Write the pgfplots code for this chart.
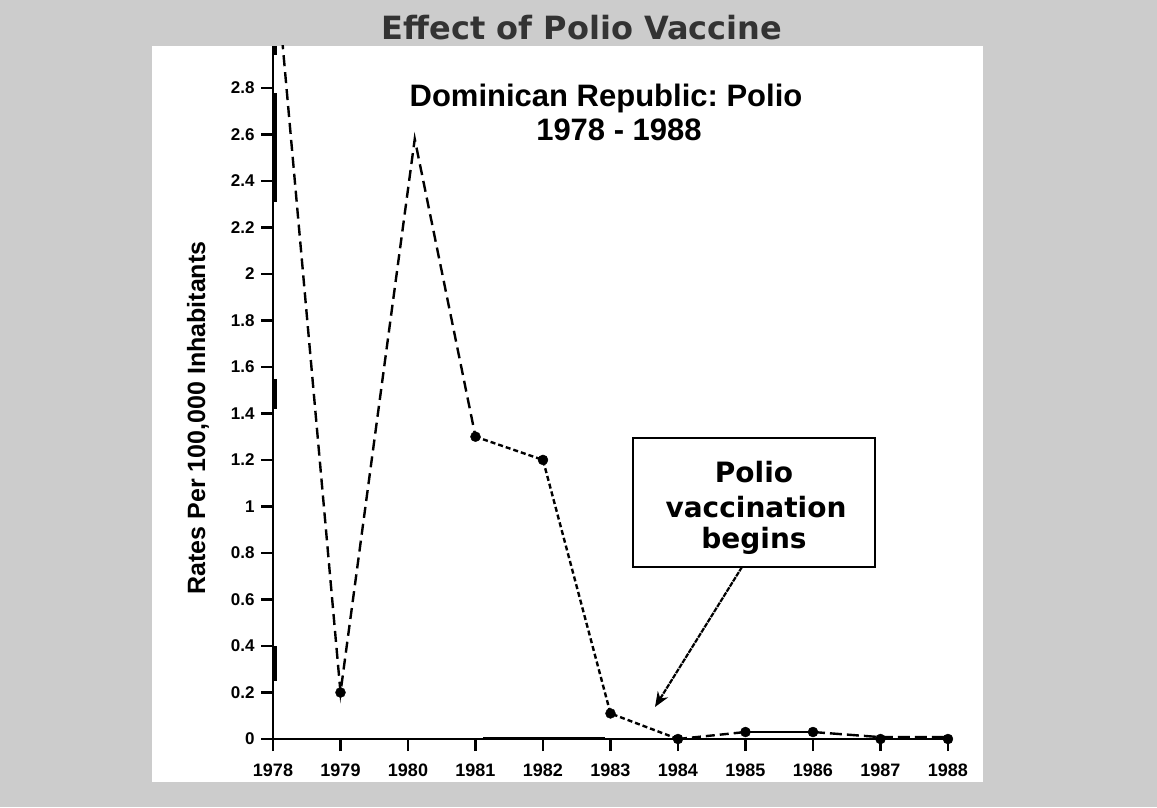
\documentclass[border=0pt]{standalone}
\usepackage{fontspec}
\setmainfont{Liberation Sans}
\newfontfamily\dv{DejaVu Sans}
\usepackage{pgfplots}
\pgfplotsset{compat=1.18}
\usetikzlibrary{arrows.meta}
\definecolor{bg}{HTML}{CCCCCC}
\definecolor{tt}{HTML}{333333}
\frenchspacing
\begin{document}
\begin{tikzpicture}[x=1pt,y=1pt]
\useasboundingbox (0,0) rectangle (1157,807);
\fill[bg] (0,0) rectangle (1157,807);
\fill[white] (152,25) rectangle (983,761);
\begin{axis}[
  at={(273pt,68pt)}, anchor=south west,
  scale only axis, width=677pt, height=693pt,
  xmin=1978, xmax=1988.03, ymin=0, ymax=2.98,
  axis lines=left, axis line style={-, line width=2.6pt},
  tick align=outside, major tick length=12pt,
  major tick style={black, line width=2.4pt},
  xtick={1978,1979,1980,1981,1982,1983,1984,1985,1986,1987,1988},
  xticklabels={1978,1979,1980,1981,1982,1983,1984,1985,1986,1987,1988},
  ytick={0,0.2,0.4,0.6,0.8,1,1.2,1.4,1.6,1.8,2,2.2,2.4,2.6,2.8},
  yticklabels={0,0.2,0.4,0.6,0.8,1,1.2,1.4,1.6,1.8,2,2.2,2.4,2.6,2.8},
  xticklabel style={font=\bfseries\fontsize{18}{21}\selectfont, yshift=-9pt},
  yticklabel style={font=\bfseries\fontsize{17}{20}\selectfont, xshift=-3pt},
]
\addplot[black, line width=2.4pt, dash pattern=on 11pt off 6pt] coordinates {(1978,3.45) (1979,0.2) (1980.1,2.58) (1981,1.3)};
\addplot[black, line width=2.4pt, dash pattern=on 5pt off 3pt] coordinates {(1981,1.3) (1982,1.2) (1983,0.11) (1984,0)};
\addplot[black, line width=2.4pt, dash pattern=on 9pt off 5pt] coordinates {(1984,0) (1985,0.03)};
\addplot[black, line width=2.4pt] coordinates {(1985,0.03) (1986,0.03)};
\addplot[black, line width=2.4pt, dash pattern=on 12pt off 5pt] coordinates {(1986,0.03) (1987,0.008) (1988,0.008)};
\addplot[black, line width=3.5pt] coordinates {(1978.03,2.31) (1978.03,2.78)};
\addplot[black, line width=3.5pt] coordinates {(1978.03,2.94) (1978.03,2.98)};
\addplot[black, line width=3.5pt] coordinates {(1978.03,1.42) (1978.03,1.55)};
\addplot[black, line width=3.5pt] coordinates {(1978.03,0.25) (1978.03,0.40)};
\addplot[black, line width=4pt] coordinates {(1981.11,0) (1982.92,0)};
\addplot[only marks, mark=*, mark size=5pt, black] coordinates {(1979,0.2) (1981,1.3) (1982,1.2) (1983,0.11) (1984,0) (1985,0.03) (1986,0.03) (1987,0) (1988,0)};
\end{axis}
\node[anchor=base, text=tt, font=\dv\bfseries\fontsize{32}{38}\selectfont] at (582,767) {Effect of Polio Vaccine};
\node[anchor=base, font=\bfseries\fontsize{31}{37}\selectfont] at (606,700) {Dominican Republic: Polio};
\node[anchor=base, font=\bfseries\fontsize{31}{37}\selectfont] at (619,666) {1978 - 1988};
\node[rotate=90, font=\bfseries\fontsize{25}{30}\selectfont] at (198,389) {Rates Per 100,000 Inhabitants};
\draw[line width=2pt] (633,240) rectangle (875,369);
\node[anchor=base, font=\dv\bfseries\fontsize{28}{33}\selectfont] at (754,324) {Polio};
\node[anchor=base, font=\dv\bfseries\fontsize{28}{33}\selectfont] at (756,290) {vaccination};
\node[anchor=base, font=\dv\bfseries\fontsize{28}{33}\selectfont] at (754,259) {begins};
\draw[line width=2.2pt, dash pattern=on 5pt off 1pt, -{Stealth[length=15pt,width=12pt]}] (742,240) -- (655,100);
\end{tikzpicture}
\end{document}
